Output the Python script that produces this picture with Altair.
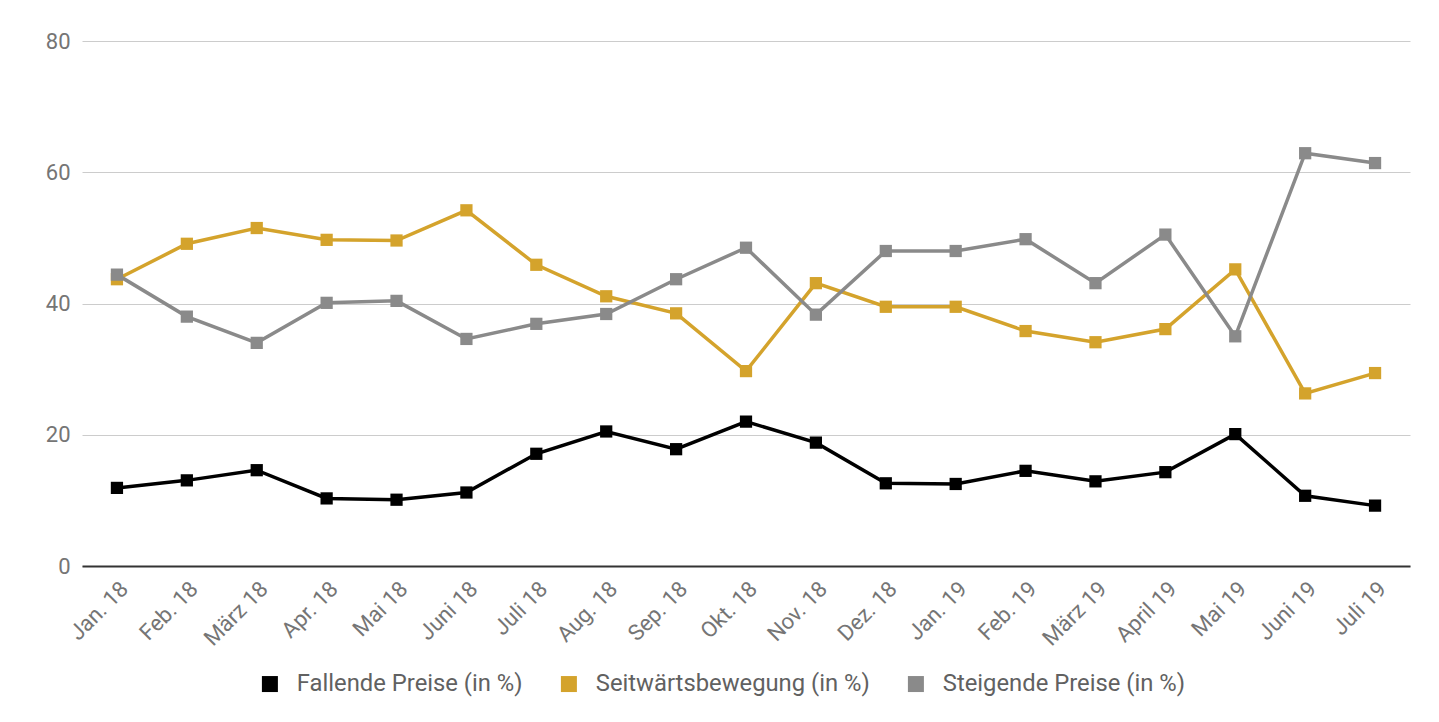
import altair as alt
import pandas as pd

months = ["Jan. 18", "Feb. 18", "März 18", "Apr. 18", "Mai 18", "Juni 18", "Juli 18",
          "Aug. 18", "Sep. 18", "Okt. 18", "Nov. 18", "Dez. 18", "Jan. 19", "Feb. 19",
          "März 19", "April 19", "Mai 19", "Juni 19", "Juli 19"]

fallende = [11.9, 13.05, 14.6, 10.3, 10.1, 11.2, 17.1, 20.5, 17.8, 22.0, 18.8, 12.6,
            12.5, 14.5, 12.9, 14.3, 20.1, 10.7, 9.2]
seitwaerts = [43.7, 49.1, 51.5, 49.7, 49.6, 54.2, 45.9, 41.1, 38.5, 29.7, 43.1, 39.5,
              39.5, 35.8, 34.1, 36.1, 45.2, 26.3, 29.4]
steigende = [44.4, 38.0, 34.0, 40.1, 40.4, 34.6, 36.9, 38.4, 43.7, 48.5, 38.3, 48.0,
             48.0, 49.8, 43.1, 50.5, 35.0, 62.9, 61.4]

series_names = ["Fallende Preise (in %)", "Seitwärtsbewegung (in %)", "Steigende Preise (in %)"]
series_colors = ["#000000", "#D4A32C", "#8A8A8A"]
y_ticks = [0, 20, 40, 60, 80]

rows = []
for name, vals in zip(series_names, [fallende, seitwaerts, steigende]):
    for m, v in zip(months, vals):
        rows.append({"Monat": m, "Serie": name, "Wert": v})
df = pd.DataFrame(rows)

FONT = "Roboto"

x_enc = alt.X("Monat:N", sort=months,
              scale=alt.Scale(type="point", padding=0.5),
              axis=alt.Axis(title=None, labelAngle=-45, labelFontSize=22,
                            labelColor="#757575", labelFont=FONT, labelPadding=12,
                            ticks=False, domainColor="#333333", domainWidth=2,
                            grid=False))
y_enc = alt.Y("Wert:Q", scale=alt.Scale(domain=[0, 80]),
              axis=alt.Axis(title=None, values=y_ticks, labelFontSize=22,
                            labelColor="#757575", labelFont=FONT, labelPadding=12,
                            ticks=False, domain=False, grid=True,
                            gridColor="#cccccc", gridWidth=1))
color_enc = alt.Color("Serie:N", sort=series_names,
                      scale=alt.Scale(domain=series_names, range=series_colors),
                      legend=alt.Legend(title=None, orient="none", direction="horizontal",
                                        legendX=176, legendY=631,
                                        symbolType="square", symbolSize=256,
                                        symbolStrokeWidth=0, labelLimit=0,
                                        labelFontSize=23.8, labelFont=FONT,
                                        labelColor="#616161", labelOffset=15,
                                        columnPadding=34))

base = alt.Chart(df)
lines = base.mark_line(strokeWidth=3.5).encode(x=x_enc, y=y_enc, color=color_enc,
                                              detail="Serie:N")
points = base.mark_point(shape="square", filled=True, size=150, opacity=1).encode(
    x=x_enc, y=y_enc, color=color_enc)

chart = alt.layer(lines, points).properties(
    width=1328, height=525,
    autosize=alt.AutoSizeParams(type="none"),
    padding={"left": 74, "top": 33, "right": 20, "bottom": 148},
).configure(font=FONT).configure_view(strokeWidth=0, stroke="transparent")

chart.save("out.html", embed_options={"renderer": "svg", "actions": False})
